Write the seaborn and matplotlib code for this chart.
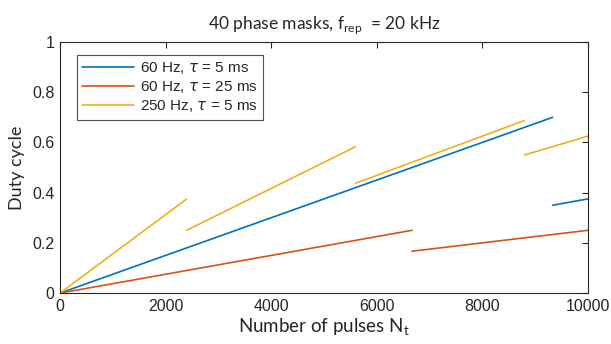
import matplotlib
matplotlib.use("Agg")
import matplotlib.pyplot as plt
import seaborn as sns
import pandas as pd
from matplotlib.font_manager import FontProperties

sns.set_style("white")
plt.rcParams['font.family'] = ['Liberation Sans', 'DejaVu Sans']
plt.rcParams['mathtext.fontset'] = 'custom'
plt.rcParams['mathtext.rm'] = 'Lato'

# segment end points: (pulse start, pulse end), (duty start, duty end)
series_labels = [r"60 Hz, $\tau$ = 5 ms", r"60 Hz, $\tau$ = 25 ms", r"250 Hz, $\tau$ = 5 ms"]
blue_x = [[0, 9333], [9333, 10000]]
blue_y = [[0, 0.70], [0.35, 0.375]]
orange_x = [[0, 6667], [6667, 10000]]
orange_y = [[0, 0.25], [0.1667, 0.25]]
yellow_x = [[0, 2400], [2400, 5600], [5600, 8800], [8800, 10000]]
yellow_y = [[0, 0.375], [0.25, 0.5833], [0.4375, 0.6875], [0.55, 0.625]]
colors = ["#0072BD", "#D95319", "#EDB120"]

rows = []
for lab, xs, ys in zip(series_labels, [blue_x, orange_x, yellow_x], [blue_y, orange_y, yellow_y]):
    for k, (sx, sy) in enumerate(zip(xs, ys)):
        for xv, yv in zip(sx, sy):
            rows.append({'pulses': xv, 'duty': yv, 'series': lab, 'seg': f"{lab}-{k}"})
df = pd.DataFrame(rows)

fig = plt.figure(figsize=(6.11, 3.44), dpi=100)
ax = fig.add_axes([0.0982, 0.148, 0.864, 0.730])
sns.lineplot(data=df, x='pulses', y='duty', hue='series', units='seg', estimator=None,
             palette=colors, hue_order=series_labels, linewidth=1.2, ax=ax)

ax.set_xlim(0, 10000)
ax.set_ylim(0, 1)
ax.set_xticks([0, 2000, 4000, 6000, 8000, 10000])
ax.set_yticks([0, 0.2, 0.4, 0.6, 0.8, 1])
ax.set_yticklabels(['0', '0.2', '0.4', '0.6', '0.8', '1'])
ax.tick_params(direction='in', length=4, width=0.8, colors='#262626', labelsize=11.5,
               top=True, right=True, pad=4)
for s in ax.spines.values():
    s.set_color('#262626')
    s.set_linewidth(0.8)

ax.set_xlabel(r"Number of pulses N$_{\rm t}$", family='Lato', fontsize=13.5, color='#262626', labelpad=2)
ax.set_ylabel("Duty cycle", family='Lato', fontsize=13, color='#262626', labelpad=5)
ax.set_title(r"40 phase masks, f$_{\rm rep}$  = 20 kHz", family='Lato', fontsize=12.5,
             color='#262626', pad=9)

handles, labels = ax.get_legend_handles_labels()
prop = FontProperties(family='Liberation Sans', size=11, math_fontfamily='dejavusans')
leg = ax.legend(handles, labels, loc='upper left', bbox_to_anchor=(0.032, 0.948), prop=prop,
                frameon=True, fancybox=False, handlelength=3.4, borderpad=0.35,
                labelspacing=0.2, handletextpad=0.35, borderaxespad=0)
leg.get_frame().set_edgecolor('#262626')
leg.get_frame().set_linewidth(0.8)

fig.savefig("out.png", dpi=100)
